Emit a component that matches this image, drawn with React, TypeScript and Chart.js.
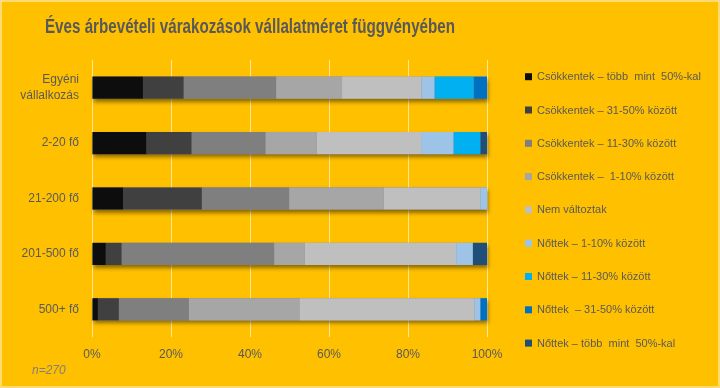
import React, { useEffect, useRef } from "react";
import { Chart, registerables } from "chart.js";

Chart.register(...registerables);

const TITLE = "Éves árbevételi várakozások vállalatméret függvényében";
const FOOTNOTE = "n=270";

const categories: (string | string[])[] = [
  ["Egyéni", "vállalkozás"],
  "2-20 fő",
  "21-200 fő",
  "201-500 fő",
  "500+ fő",
];

const seriesLabels = [
  "Csökkentek – több  mint  50%-kal",
  "Csökkentek – 31-50% között",
  "Csökkentek – 11-30% között",
  "Csökkentek –  1-10% között",
  "Nem változtak",
  "Nőttek – 1-10% között",
  "Nőttek – 11-30% között",
  "Nőttek  – 31-50% között",
  "Nőttek – több  mint  50%-kal",
];

const seriesColors = [
  "#0D0D0D",
  "#404040",
  "#7F7F7F",
  "#A6A6A6",
  "#BFBFBF",
  "#9DC3E6",
  "#00B0F0",
  "#0070C0",
  "#1F4E79",
];

// values per series, one per category (percent)
const decMore50 = [12.9, 13.8, 7.9, 3.5, 1.5];
const dec31to50 = [10.3, 11.4, 19.9, 4.0, 5.3];
const dec11to30 = [23.4, 18.7, 22.1, 38.6, 17.7];
const dec1to10 = [16.7, 13.0, 24.0, 7.8, 28.0];
const unchanged = [20.1, 26.4, 24.4, 38.3, 44.3];
const inc1to10 = [3.3, 8.2, 1.7, 4.2, 1.5];
const inc11to30 = [9.9, 6.8, 0, 0, 0];
const inc31to50 = [3.4, 0, 0, 0, 1.7];
const incMore50 = [0, 1.7, 0, 3.6, 0];

const seriesValues = [
  decMore50,
  dec31to50,
  dec11to30,
  dec1to10,
  unchanged,
  inc1to10,
  inc11to30,
  inc31to50,
  incMore50,
];

const xTicks = [0, 20, 40, 60, 80, 100];

const FONT = '"Liberation Sans", Arial, sans-serif';
const TEXT_COLOR = "#595959";
const BG = "#FFC000";

const decorPlugin = {
  id: "decor",
  beforeDraw(chart: any) {
    const { ctx, width, height } = chart;
    ctx.save();
    ctx.fillStyle = BG;
    ctx.fillRect(0, 0, width, height);
    ctx.strokeStyle = "rgba(255,255,255,0.45)";
    ctx.lineWidth = 2;
    ctx.strokeRect(1, 1, width - 2, height - 2);
    ctx.restore();
  },
  beforeDatasetsDraw(chart: any) {
    const { ctx } = chart;
    const metas = chart.getSortedVisibleDatasetMetas();
    if (!metas.length) return;
    const n = chart.data.labels.length;
    ctx.save();
    ctx.shadowColor = "rgba(0,0,0,0.45)";
    ctx.shadowBlur = 4;
    ctx.shadowOffsetX = 1;
    ctx.shadowOffsetY = 3;
    ctx.fillStyle = "#888";
    for (let j = 0; j < n; j++) {
      let minX = Infinity;
      let maxX = -Infinity;
      let y = 0;
      let h = 0;
      metas.forEach((m: any) => {
        const el = m.data[j];
        if (!el) return;
        minX = Math.min(minX, el.x, el.base);
        maxX = Math.max(maxX, el.x, el.base);
        y = el.y;
        h = el.height;
      });
      if (isFinite(minX)) {
        ctx.fillRect(minX, y - h / 2, maxX - minX, h);
      }
    }
    ctx.restore();
  },
  afterDraw(chart: any) {
    const { ctx } = chart;
    ctx.save();
    // title
    ctx.fillStyle = TEXT_COLOR;
    ctx.font = 'bold 20px "Liberation Sans Narrow", "Liberation Sans", Arial, sans-serif';
    ctx.textBaseline = "alphabetic";
    ctx.textAlign = "left";
    ctx.fillText(TITLE, 45, 33, 410);

    // legend
    ctx.font = "11px " + FONT;
    ctx.textBaseline = "middle";
    chart.data.datasets.forEach((ds: any, i: number) => {
      const cy = 76.7 + i * 33.3;
      ctx.fillStyle = ds.backgroundColor;
      ctx.fillRect(525, cy - 3.5, 7, 7);
      ctx.fillStyle = TEXT_COLOR;
      ctx.fillText(ds.label, 537, cy + 0.5, 170);
    });

    // footnote
    ctx.font = "italic 12px " + FONT;
    ctx.fillStyle = "#7F7F7F";
    ctx.fillText(FOOTNOTE, 32, 371);
    ctx.restore();
  },
};

export default function App() {
  const canvasRef = useRef<HTMLCanvasElement | null>(null);

  useEffect(() => {
    if (!canvasRef.current) return;
    const chart = new Chart(canvasRef.current, {
      type: "bar",
      data: {
        labels: categories as any,
        datasets: seriesLabels.map((label, i) => ({
          label,
          data: seriesValues[i],
          backgroundColor: seriesColors[i],
          borderWidth: 0,
          barPercentage: 0.4,
          categoryPercentage: 1,
        })),
      },
      options: {
        indexAxis: "y",
        responsive: false,
        animation: false,
        layout: { padding: { left: 0, right: 233, top: 60, bottom: 21 } },
        plugins: {
          legend: { display: false },
          title: { display: false },
          tooltip: { enabled: false },
        },
        scales: {
          x: {
            stacked: true,
            min: 0,
            max: 100,
            afterFit: (scale: any) => {
              scale.height = 30;
            },
            afterBuildTicks: (scale: any) => {
              scale.ticks = xTicks.map((v) => ({ value: v }));
            },
            border: { display: false },
            grid: {
              color: "rgba(255,255,255,0.6)",
              lineWidth: 1,
              drawTicks: false,
            },
            ticks: {
              padding: 10,
              color: TEXT_COLOR,
              font: { size: 12, family: FONT },
              callback: (v: any) => v + "%",
            },
          },
          y: {
            stacked: true,
            afterFit: (scale: any) => {
              scale.width = 92;
            },
            border: { display: false },
            grid: { display: false, drawTicks: false },
            ticks: {
              padding: 13,
              color: TEXT_COLOR,
              font: { size: 12, family: FONT, lineHeight: 1.3 },
            },
          },
        },
      },
      plugins: [decorPlugin],
    });
    return () => chart.destroy();
  }, []);

  return (
    <div
      style={{
        position: "fixed",
        left: 0,
        top: 0,
        width: 720,
        height: 388,
        background: BG,
      }}
    >
      <canvas ref={canvasRef} width={720} height={388} />
    </div>
  );
}
